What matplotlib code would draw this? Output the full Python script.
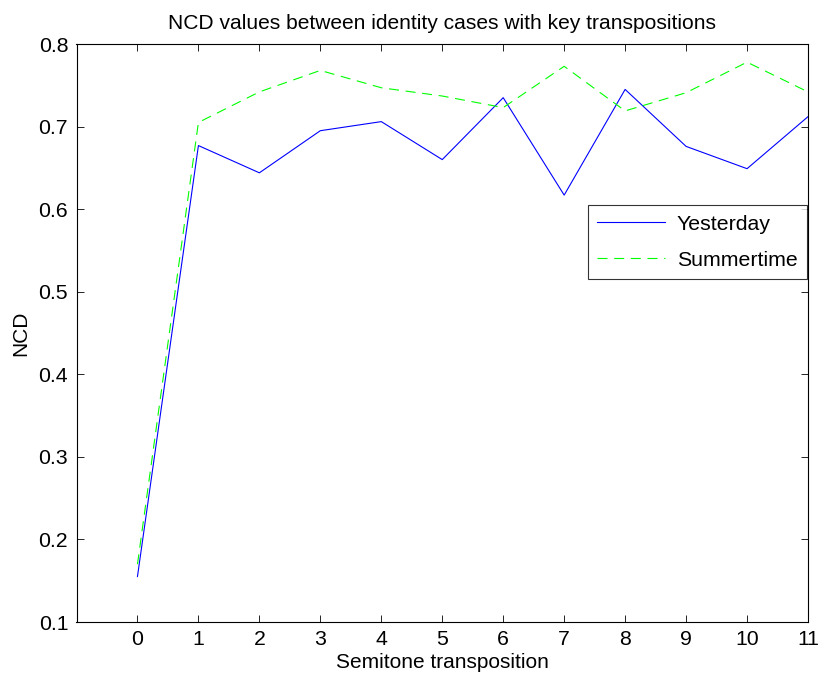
import matplotlib
matplotlib.use("Agg")
import matplotlib.pyplot as plt

plt.rcParams['font.family'] = ['Liberation Sans', 'DejaVu Sans']

semitones = list(range(12))
yesterday = [0.155, 0.677, 0.644, 0.695, 0.706, 0.660, 0.735, 0.617, 0.745, 0.676, 0.649, 0.712]
summertime = [0.170, 0.705, 0.742, 0.768, 0.747, 0.737, 0.723, 0.773, 0.719, 0.741, 0.778, 0.742]
y_ticks = [0.1, 0.2, 0.3, 0.4, 0.5, 0.6, 0.7, 0.8]

fig = plt.figure(figsize=(8.19, 6.74), dpi=100)
ax = fig.add_axes([76.5 / 819, 52 / 674, (808 - 76.5) / 819, 578 / 674])

ax.plot(semitones, yesterday, color=(0, 0, 1), lw=0.8, label='Yesterday')
ax.plot(semitones, summertime, color=(0, 1, 0), lw=0.8, ls=(0, (9, 6)), label='Summertime')

ax.set_xlim(-1, 11)
ax.set_ylim(0.1, 0.8)
ax.set_xticks(semitones)
ax.set_yticks(y_ticks)
ax.set_yticklabels([f'{v:.1f}' for v in y_ticks])
ax.tick_params(direction='in', length=5, width=0.6, top=True, right=True,
               labelsize=15.3, pad=6, colors='black')
for s in ax.spines.values():
    s.set_linewidth(0.8)

ax.set_title('NCD values between identity cases with key transpositions', fontsize=15.1, pad=11)
ax.set_xlabel('Semitone transposition', fontsize=15, labelpad=3)
ax.set_ylabel('NCD', fontsize=15, labelpad=6)

leg = ax.legend(loc='upper left', bbox_to_anchor=((587.5 - 76.5) / (808 - 76.5), (622 - 205) / 578),
                fontsize=15.3, frameon=True, fancybox=False, handlelength=3.2,
                borderpad=0.45, labelspacing=0.8, handletextpad=0.55, borderaxespad=0)
leg.get_frame().set_edgecolor('black')
leg.get_frame().set_linewidth(0.8)

fig.savefig('out.png', dpi=100)
